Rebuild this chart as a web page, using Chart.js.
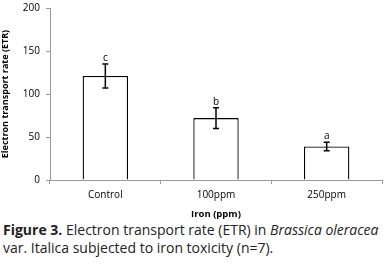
<!DOCTYPE html>
<html>
<head>
<meta charset="utf-8">
<script src="https://cdn.jsdelivr.net/npm/chart.js@4/dist/chart.umd.min.js"></script>
<style>
  html, body { margin: 0; padding: 0; background: #fff; }
  body { width: 387px; height: 265px; overflow: hidden; }
  #wrap { position: relative; width: 387px; height: 224px; margin-top: -4px; }
  .caption {
    font-family: "Open Sans", "Lato", sans-serif;
    font-size: 14px;
    line-height: 18px;
    color: #222;
    margin: 1px 0 0 3px;
    letter-spacing: 0;
    white-space: nowrap;
  }
</style>
</head>
<body>
<div id="wrap"><canvas id="chart"></canvas></div>
<div class="caption"><b>Figure 3.</b> Electron transport rate (ETR) in <i>Brassica oleracea</i><br>var. Italica subjected to iron toxicity (n=7).</div>
<script>
// Data
const categories = ["Control", "100ppm", "250ppm"];
const etrValues = [121, 72, 39];
const etrErrors = [14, 12, 5];
const sigLetters = ["c", "b", "a"];
const yTicks = [0, 50, 100, 150, 200];

// Draws error bars and significance letters from the scales
const errorBarPlugin = {
  id: "errorBars",
  afterDatasetsDraw(chart) {
    const ctx = chart.ctx;
    const x = chart.scales.x;
    const y = chart.scales.y;
    ctx.save();
    ctx.strokeStyle = "#000";
    ctx.lineWidth = 1.5;
    categories.forEach((c, i) => {
      const px = x.getPixelForValue(i);
      const top = y.getPixelForValue(etrValues[i] + etrErrors[i]);
      const bot = y.getPixelForValue(etrValues[i] - etrErrors[i]);
      ctx.beginPath();
      ctx.moveTo(px, top);
      ctx.lineTo(px, bot);
      ctx.moveTo(px - 3, top);
      ctx.lineTo(px + 3, top);
      ctx.moveTo(px - 3, bot);
      ctx.lineTo(px + 3, bot);
      ctx.stroke();
      ctx.fillStyle = "#000";
      ctx.font = "10px 'Open Sans', sans-serif";
      ctx.textAlign = "center";
      ctx.textBaseline = "bottom";
      ctx.fillText(sigLetters[i], px, top - 1);
    });
    ctx.restore();
  },
};

new Chart(document.getElementById("chart").getContext("2d"), {
  type: "bar",
  data: {
    labels: categories,
    datasets: [
      {
        data: etrValues,
        backgroundColor: "#ffffff",
        borderColor: "#000000",
        borderWidth: 1.3,
        categoryPercentage: 1,
        barPercentage: 0.41,
      },
    ],
  },
  options: {
    responsive: true,
    maintainAspectRatio: false,
    animation: false,
    layout: { padding: { top: 4, right: 5, left: 0, bottom: 0 } },
    plugins: {
      legend: { display: false },
      tooltip: { enabled: false },
    },
    scales: {
      x: {
        grid: {
          drawOnChartArea: false,
          drawTicks: true,
          tickLength: 4,
          color: "#999",
        },
        border: { color: "#999", width: 1 },
        ticks: {
          color: "#000",
          font: { family: "'Open Sans', sans-serif", size: 10 },
          padding: 5,
        },
        title: {
          display: true,
          text: "Iron (ppm)",
          color: "#000",
          font: { family: "'Open Sans', sans-serif", size: 9.5, weight: "bold" },
          padding: { top: 3, bottom: 0 },
        },
        afterFit(scale) {
          scale.height = 40;
        },
      },
      y: {
        min: 0,
        max: 200,
        afterBuildTicks(scale) {
          scale.ticks = yTicks.map((v) => ({ value: v }));
        },
        grid: {
          drawOnChartArea: false,
          drawTicks: true,
          tickLength: 4,
          color: "#999",
        },
        border: { color: "#999", width: 1 },
        ticks: {
          color: "#000",
          font: { family: "'Open Sans', sans-serif", size: 10 },
          padding: 6,
        },
        title: {
          display: true,
          text: "Electron transport rate (ETR)",
          color: "#000",
          font: { family: "'Open Sans', sans-serif", size: 9, weight: "bold" },
          padding: { top: 0, bottom: 4 },
        },
        afterFit(scale) {
          scale.width = 50;
        },
      },
    },
  },
  plugins: [errorBarPlugin],
});
</script>
</body>
</html>
